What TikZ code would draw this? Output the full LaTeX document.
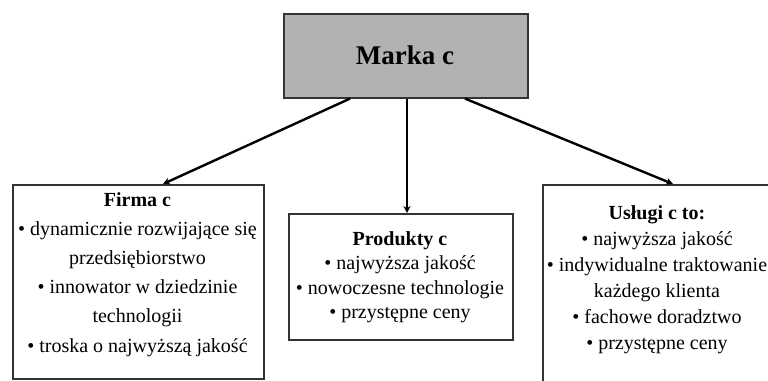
\documentclass[tikz,border=0pt]{standalone}
\usepackage{fontspec}
\setmainfont{Liberation Serif}
\usetikzlibrary{arrows.meta}
\begin{document}
\begin{tikzpicture}[x=1pt,y=-1pt,
  box/.style={draw=black!80,line width=1.6pt,rectangle,inner sep=0pt,anchor=north west},
  txt/.style={align=center,inner sep=0pt,anchor=north,font=\fontsize{20}{29}\selectfont},
  conn/.style={line width=2.4pt,-{Stealth[length=7pt,width=7pt]}}]
\useasboundingbox (0,0) rectangle (768,380);
\clip (0,0) rectangle (768,380);
\node[box,fill=black!30,minimum width=244pt,minimum height=84pt] (top) at (283,13) {};
\node[font=\fontsize{27}{32}\selectfont\bfseries] (toptxt) at (405,55) {Marka c};
\node[box,minimum width=251pt,minimum height=194pt] (firma) at (12,184) {};
\node[box,minimum width=224pt,minimum height=126pt] (prod) at (288,213) {};
\node[box,minimum width=232pt,minimum height=210pt] (usl) at (542,184) {};
\node[txt,font=\fontsize{20}{29.2}\selectfont] (firmatxt) at (137.5,192) {\textbf{Firma c}\\• dynamicznie rozwijające się\\przedsiębiorstwo\\• innowator w dziedzinie\\technologii\\• troska o najwyższą jakość};
\node[txt,font=\fontsize{20}{24.5}\selectfont] (prodtxt) at (400,231) {\textbf{Produkty c}\\• najwyższa jakość\\• nowoczesne technologie\\• przystępne ceny};
\node[txt,font=\fontsize{20}{26}\selectfont] (usltxt) at (657,205) {\textbf{Usługi c to:}\\• najwyższa jakość\\• indywidualne traktowanie\\każdego klienta\\• fachowe doradztwo\\• przystępne ceny};
\draw[conn] ([xshift=67pt]top.south west) -- ([xshift=151pt]firma.north west);
\draw[conn] ([xshift=124pt]top.south west) -- ([xshift=119pt]prod.north west);
\draw[conn] ([xshift=182pt]top.south west) -- ([xshift=131pt]usl.north west);
\end{tikzpicture}
\end{document}
